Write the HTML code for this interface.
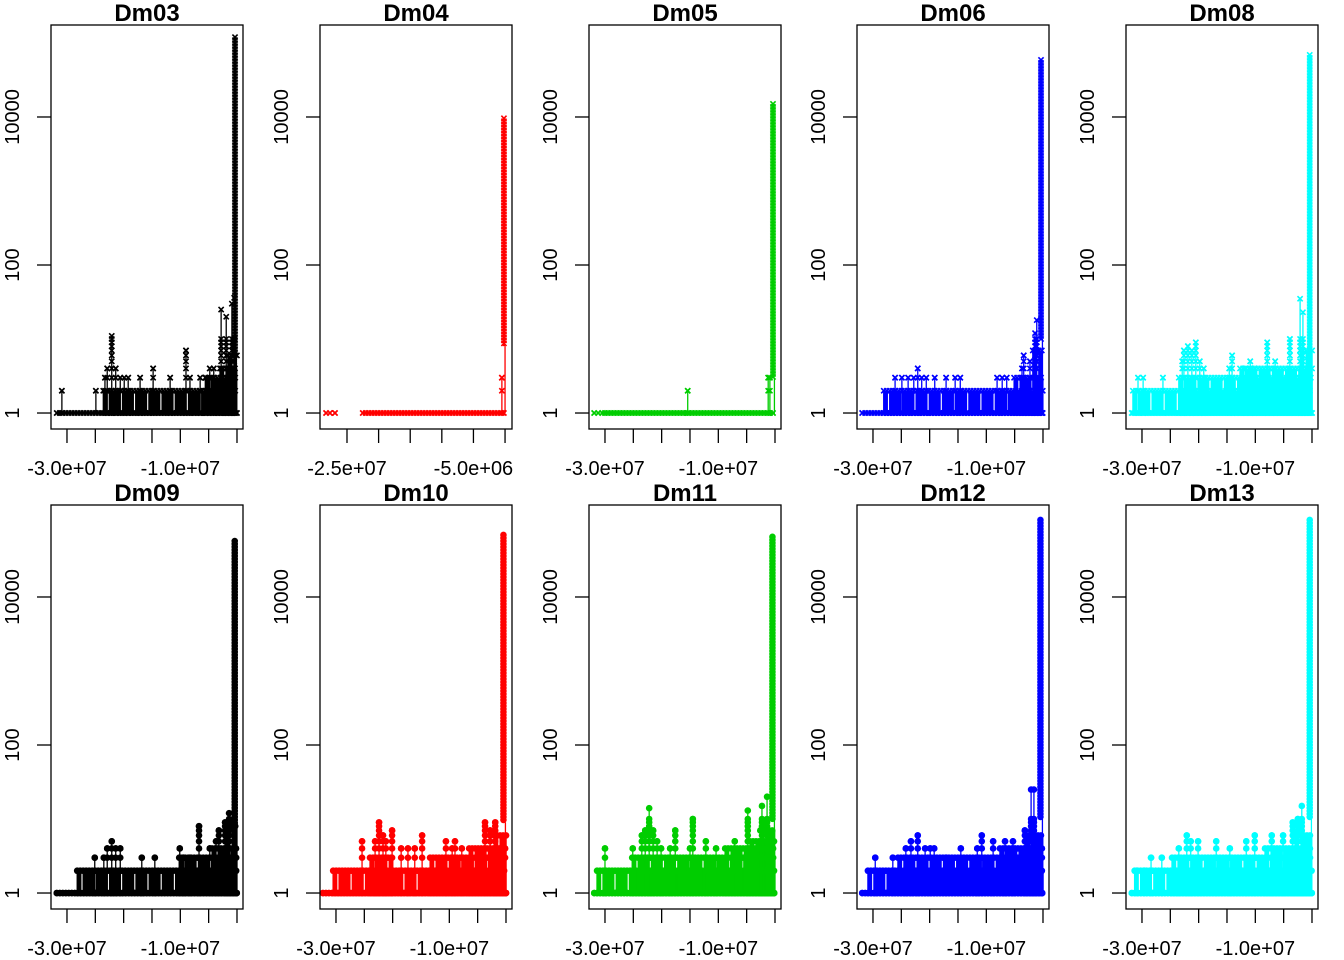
<!DOCTYPE html>
<html><head><meta charset="utf-8"><style>
html,body{margin:0;padding:0;background:#fff;}
svg{display:block;font-family:"Liberation Sans",sans-serif;}
</style></head><body>
<svg id="chart" width="1344" height="960" viewBox="0 0 1344 960" xmlns="http://www.w3.org/2000/svg"></svg>
<script>
// ---- data (x in millions, y = counts, log scale) ----
const panelTitles = ["Dm03","Dm04","Dm05","Dm06","Dm08","Dm09","Dm10","Dm11","Dm12","Dm13"];
const panelColors = ["#000000","#ff0000","#00cd00","#0000ff","#00ffff","#000000","#ff0000","#00cd00","#0000ff","#00ffff"];
const panelMarkers = ["x","x","x","x","x","o","o","o","o","o"];
const xTicksStd = [-30,-25,-20,-15,-10,-5,0];
const xTickLabelsStd = ["-3.0e+07","","","","-1.0e+07","",""];
const xTicksDm04 = [-25,-20,-15,-10,-5,0];
const xTickLabelsDm04 = ["-2.5e+07","","","","-5.0e+06",""];
const yTicks = [1,100,10000];
const yTickLabels = ["1","100","10000"];

const dm03Fills = [[-31.8,0,1],[-23.6,0,2],[-5.6,0,3],[-3.0,0,4],[-1.6,0,6]];
const dm03Spikes = [[-30.9,2],[-24.9,2],[-23.3,3],[-22.9,4],[-22.1,11],[-21.4,4],[-20.6,3],[-19.9,3],[-19.2,3],[-17.1,3],[-14.8,4],[-11.8,3],[-9.0,7],[-8.3,3],[-6.5,3],[-5.5,3],[-4.8,4],[-4.1,4],[-2.8,25],[-1.9,20],[-0.9,30],[-0.5,36]];
const dm03Wall = [-0.6,-0.1,6,120000];

const dm04Fills = [[-22.5,0,1]];
const dm04Spikes = [[-28.3,1],[-27.7,1],[-26.9,1],[-0.5,3]];
const dm04Wall = [-0.35,0.0,8,9600];

const dm05Fills = [[-30.0,0,1]];
const dm05Spikes = [[-31.9,1],[-31.2,1],[-30.5,1],[-15.4,2],[-1.2,3],[-0.9,3]];
const dm05Wall = [-0.6,-0.1,3,15000];

const dm06Fills = [[-31.9,0,1],[-28.1,0,2],[-5.1,0,3],[-1.8,0,7]];
const dm06Spikes = [[-26.1,3],[-24.9,3],[-23.8,3],[-22.8,3],[-22.1,4],[-21.4,3],[-20.6,3],[-19.1,3],[-17.1,3],[-15.5,3],[-14.6,3],[-8.1,3],[-7.2,3],[-6.4,3],[-3.7,4],[-3.4,6],[-2.3,5],[-1.4,12],[-1.1,18]];
const dm06Wall = [-0.6,-0.1,10,59000];

const dm08Fills = [[-31.8,0,1],[-31.6,0,2],[-23.5,0,3],[-12.7,0,4],[-2.1,0,7]];
const dm08Spikes = [[-30.7,3],[-29.8,3],[-26.3,3],[-22.9,5],[-22.6,7],[-21.9,8],[-21.2,7],[-20.5,9],[-19.8,5],[-19.1,4],[-14.6,4],[-14.1,6],[-11.8,4],[-10.9,5],[-10.1,4],[-7.9,9],[-6.5,5],[-3.9,10],[-2.1,35],[-1.6,23]];
const dm08Wall = [-0.7,-0.1,7,69000];

const dm09Fills = [[-31.8,0,1],[-28.2,0,2],[-10.2,0,3],[-4.4,0,4],[-1.9,0,8]];
const dm09Spikes = [[-25.1,3],[-23.5,3],[-22.9,4],[-22.1,5],[-21.4,4],[-20.6,4],[-16.8,3],[-14.5,3],[-10.1,4],[-9.4,3],[-8.3,3],[-6.7,8],[-4.8,4],[-3.7,5],[-3.2,7],[-2.1,9],[-1.4,12]];
const dm09Wall = [-0.7,-0.1,8,57000];

const dm10Fills = [[-32.3,0,1],[-30.5,0,2],[-24.0,-19.8,3],[-13.4,0,3],[-6.5,0,4],[-2.1,0,6]];
const dm10Spikes = [[-25.4,5],[-23.1,5],[-22.4,9],[-21.7,6],[-21.2,5],[-20.1,7],[-18.5,4],[-17.3,4],[-16.1,4],[-14.8,6],[-10.6,5],[-9.5,4],[-9.0,5],[-7.8,4],[-3.7,9],[-2.8,7],[-1.9,9]];
const dm10Wall = [-0.8,-0.1,9,69000];

const dm11Fills = [[-31.9,0,1],[-31.4,0,2],[-25.2,0,3],[-8.8,0,4],[-4.4,0,5],[-2.6,0,7]];
const dm11Spikes = [[-30.0,4],[-25.1,4],[-23.5,6],[-22.9,7],[-22.2,14],[-21.5,7],[-20.8,5],[-20.1,4],[-18.5,4],[-17.6,7],[-15.0,4],[-14.5,10],[-12.2,5],[-10.4,4],[-7.1,5],[-4.8,13],[-2.3,15],[-1.4,20]];
const dm11Wall = [-0.8,-0.1,10,65000];

const dm12Fills = [[-31.9,0,1],[-30.9,0,2],[-25.6,0,3],[-7.6,0,4],[-3.0,0,6]];
const dm12Spikes = [[-29.6,3],[-26.5,3],[-24.2,4],[-23.3,5],[-22.1,6],[-20.8,4],[-19.9,4],[-19.2,4],[-17.1,3],[-14.5,4],[-11.6,4],[-10.8,6],[-8.8,5],[-6.7,5],[-5.3,5],[-3.2,7],[-2.1,25],[-1.6,25]];
const dm12Wall = [-0.8,-0.1,10,110000];

const dm13Fills = [[-31.8,0,1],[-31.3,0,2],[-24.7,0,3],[-8.3,0,4],[-3.0,0,6]];
const dm13Spikes = [[-30.9,2],[-29.6,2],[-28.4,3],[-26.5,3],[-23.5,4],[-22.1,6],[-21.4,5],[-20.1,5],[-16.9,5],[-14.5,4],[-11.6,5],[-10.1,6],[-7.1,6],[-5.1,6],[-3.4,9],[-2.5,10],[-1.8,15]];
const dm13Wall = [-0.7,-0.1,10,110000];

const allFills = [dm03Fills,dm04Fills,dm05Fills,dm06Fills,dm08Fills,dm09Fills,dm10Fills,dm11Fills,dm12Fills,dm13Fills];
const allSpikes = [dm03Spikes,dm04Spikes,dm05Spikes,dm06Spikes,dm08Spikes,dm09Spikes,dm10Spikes,dm11Spikes,dm12Spikes,dm13Spikes];
const allWalls = [dm03Wall,dm04Wall,dm05Wall,dm06Wall,dm08Wall,dm09Wall,dm10Wall,dm11Wall,dm12Wall,dm13Wall];

// ---- layout ----
const NS = "http://www.w3.org/2000/svg";
const svg = document.getElementById("chart");
const lefts = [51,320,589,857,1126];
const tops = [25,505];
const W = 192, H = 404;
const LMIN = -0.216, LMAX = 5.243;

function el(tag, attrs, parent){
  const e = document.createElementNS(NS, tag);
  for (const k in attrs) e.setAttribute(k, attrs[k]);
  (parent||svg).appendChild(e);
  return e;
}

for (let i = 0; i < 10; i++) {
  const left = lefts[i % 5], top = tops[Math.floor(i / 5)];
  const isDm04 = i === 1;
  const xmin = isDm04 ? -29.27 : -32.82;
  const xmax = isDm04 ? 1.1 : 1.06;
  const xTicks = isDm04 ? xTicksDm04 : xTicksStd;
  const xLabels = isDm04 ? xTickLabelsDm04 : xTickLabelsStd;
  const col = panelColors[i], mk = panelMarkers[i];
  const sx = x => left + (x - xmin) / (xmax - xmin) * W;
  const sy = v => top + (LMAX - Math.log10(v)) / (LMAX - LMIN) * H;

  const g = el("g", {});
  
  

  const title = el("text", {x: left + W/2, y: top - 4, "text-anchor": "middle", "font-size": 24, "font-weight": "bold", fill: "#000"}, g);
  title.textContent = panelTitles[i];
  
  

  const marks = el("g", {fill: col, stroke: col}, g);
  
  

  function marker(x, y){
    if (mk === "x") {
      el("path", {d: `M${x-2.6},${y-2.6}L${x+2.6},${y+2.6}M${x-2.6},${y+2.6}L${x+2.6},${y-2.6}`, "stroke-width": 1.6, fill: "none"}, marks);
    } else {
      el("circle", {cx: x, cy: y, r: 3.3, stroke: "none"}, marks);
    }
  }
  const y1 = sy(1);

  // fills (dense stems)
  allFills[i].forEach(f => {
    const xa = sx(f[0]), xb = sx(f[1]), yl = sy(f[2]);
    if (f[2] > 1) {
      let d = "";
      let n = 0;
      for (let xx = xa; xx <= xb + 0.1; xx += 1.2) {
        n++;
        if (n % 11 === 5) continue;
        d += `M${xx.toFixed(1)},${y1}V${yl}`;
      }
      const p = el("path", {d: d, "stroke-width": 1.3, fill: "none"}, marks);
      
      
    }
    for (let xx = xa; xx <= xb + 0.1; xx += 3) { marker(xx, yl); marker(xx, y1); }
    el("line", {x1: xa, x2: xb, y1: y1, y2: y1, "stroke-width": 1.5}, marks);
  });

  // individual spikes
  allSpikes[i].forEach(s => {
    const x = sx(s[0]), yt = sy(s[1]);
    const ln = el("line", {x1: x, x2: x, y1: y1, y2: yt, "stroke-width": 1.3}, marks);
    
    
    for (let k = 1; k <= Math.min(s[1], 10); k++) marker(x, sy(k));
    marker(x, yt);
  });

  // right-hand wall
  const w = allWalls[i];
  const wa = sx(w[0]), wb = sx(w[1]), wlo = sy(w[2]), whi = sy(w[3]);
  const wr = el("rect", {x: wa, y: whi, width: Math.max(1, wb - wa), height: wlo - whi, stroke: "none"}, marks);
  
  
  el("line", {x1: wb, x2: wb, y1: y1, y2: wlo, "stroke-width": 1.3}, marks);
  for (let yy = whi; yy <= wlo; yy += 3) { marker((wa + wb) / 2, yy); }

  // box
  const box = el("rect", {x: left, y: top, width: W, height: H, fill: "none", stroke: "#000", "stroke-width": 1.3}, g);
  
  

  // x axis
  const xa = el("g", {stroke: "#000", "stroke-width": 1.3}, g);
  
  
  xTicks.forEach((t, j) => {
    const x = sx(t);
    el("line", {x1: x, x2: x, y1: top + H, y2: top + H + 14}, xa);
    if (xLabels[j]) {
      const tx = el("text", {x: x, y: top + H + 46, "text-anchor": "middle", "font-size": 20, fill: "#000", stroke: "none"}, xa);
      tx.textContent = xLabels[j];
      
      
    }
  });

  // y axis
  const ya = el("g", {stroke: "#000", "stroke-width": 1.3}, g);
  
  
  yTicks.forEach((t, j) => {
    const y = sy(t);
    el("line", {x1: left - 14, x2: left, y1: y, y2: y}, ya);
    const tx = el("text", {x: 0, y: 0, transform: `translate(${left - 32},${y}) rotate(-90)`, "text-anchor": "middle", "font-size": 20, fill: "#000", stroke: "none"}, ya);
    tx.textContent = yTickLabels[j];
    
    
  });
}
</script>
</body></html>
